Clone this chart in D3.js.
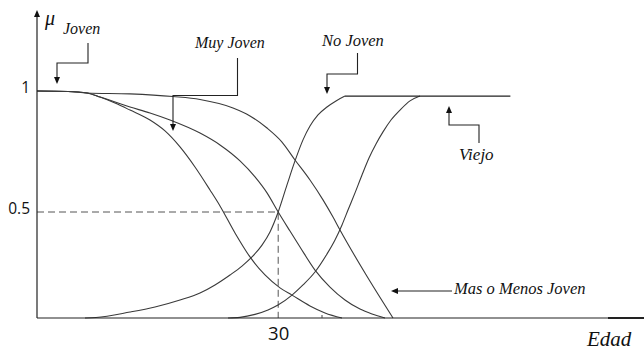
<!DOCTYPE html>
<html>
<head>
<meta charset="utf-8">
<script src="https://cdn.jsdelivr.net/npm/d3@7"></script>
<style>
  html, body { margin: 0; padding: 0; background: #fff; }
  svg { display: block; }
  .lbl { font-family: "Liberation Serif", serif; font-style: italic; fill: #111; }
  .num { font-family: "Open Sans", sans-serif; fill: #111; }
</style>
</head>
<body>
<script>
// ---- data (age in years, membership mu) ----
const muyJovenAge = [0, 3.856, 6.219, 7.836, 9.702, 11.567, 14.055, 15.921, 17.787, 19.652, 21.518, 22.762, 24.627, 26.493, 28.359, 30.225, 31.717, 33.956, 35.822, 37.937];
const muyJovenMu  = [1, 0.998, 0.992, 0.975, 0.950, 0.921, 0.880, 0.835, 0.769, 0.686, 0.591, 0.525, 0.401, 0.288, 0.203, 0.142, 0.108, 0.057, 0.024, 0];

const jovenAge = [0, 3.856, 6.219, 7.836, 11.567, 14.055, 16.543, 20.274, 22.762, 25.250, 27.116, 28.608, 30.0, 31.468, 32.712, 34.578, 36.444, 38.310, 40.176, 41.668, 43.285];
const jovenMu  = [1, 0.998, 0.992, 0.975, 0.934, 0.909, 0.880, 0.826, 0.777, 0.711, 0.645, 0.579, 0.5, 0.410, 0.335, 0.226, 0.146, 0.085, 0.042, 0.019, 0];

const masMenosAge = [0, 3.856, 6.219, 11.567, 16.916, 20.274, 24.379, 26.493, 28.608, 30.473, 32.090, 33.956, 35.573, 36.817, 37.688, 40.797, 44.280];
const masMenosMu  = [1, 0.998, 0.992, 0.988, 0.977, 0.965, 0.930, 0.897, 0.847, 0.789, 0.715, 0.632, 0.550, 0.476, 0.415, 0.212, 0];

const noJovenAge = [5.970, 7.339, 11.567, 14.677, 17.787, 20.274, 22.140, 24.006, 25.498, 26.742, 27.986, 28.981, 30.0, 31.095, 32.090, 33.085, 33.956, 34.951, 36.071, 37.190, 38.310];
const noJovenMu  = [0, 0.002, 0.028, 0.052, 0.085, 0.118, 0.156, 0.203, 0.245, 0.288, 0.344, 0.406, 0.5, 0.612, 0.711, 0.798, 0.855, 0.901, 0.934, 0.959, 0.979];

const viejoAge = [23.757, 25.250, 27.116, 28.733, 29.976, 31.717, 33.085, 34.578, 36.071, 37.066, 37.937, 38.683, 39.554, 40.424, 41.295, 42.166, 43.036, 44.031, 45.151, 46.395, 47.638];
const viejoMu  = [0, 0.003, 0.017, 0.038, 0.061, 0.108, 0.156, 0.217, 0.302, 0.368, 0.439, 0.508, 0.579, 0.653, 0.723, 0.781, 0.831, 0.880, 0.921, 0.959, 0.979];

const plateauAge = [38.31, 58.88];
const plateauMu  = [0.979, 0.979];

const yTickValues = [1, 0.5];
const yTickLabels = ["1", "0.5"];
const xTickValues = [30];
const xTickLabels = ["30"];
const refAge = 30, refMu = 0.5;

// ---- layout ----
const W = 644, H = 350;
const svg = d3.select("body").append("svg").attr("width", W).attr("height", H);

const x = d3.scaleLinear().domain([0, 75.5]).range([37, 644]);
const y = d3.scaleLinear().domain([0, 0.5, 1]).range([318, 212, 91]);

const line = d3.line().x(d => x(d[0])).y(d => y(d[1])).curve(d3.curveMonotoneX);
const straight = d3.line().x(d => x(d[0])).y(d => y(d[1]));
const zip = (a, b) => a.map((v, i) => [v, b[i]]);

// dashed reference lines
svg.append("path")
  .attr("d", straight([[0, refMu], [refAge, refMu], [refAge, 0]]))
  .attr("fill", "none").attr("stroke", "#555").attr("stroke-width", 1)
  .attr("stroke-dasharray", "7,4");

// curves
const series = [
  zip(muyJovenAge, muyJovenMu),
  zip(jovenAge, jovenMu),
  zip(masMenosAge, masMenosMu),
  zip(noJovenAge, noJovenMu),
  zip(viejoAge, viejoMu)
];
svg.selectAll("path.curve").data(series).enter().append("path")
  .attr("class", "curve")
  .attr("d", line)
  .attr("fill", "none").attr("stroke", "#3a3a3a").attr("stroke-width", 1.1);

svg.append("path").attr("d", straight(zip(plateauAge, plateauMu)))
  .attr("fill", "none").attr("stroke", "#222").attr("stroke-width", 1.1);

// axes
const yAxis = d3.axisLeft(y).tickValues(yTickValues).tickSize(0).tickPadding(7)
  .tickFormat((d, i) => yTickLabels[i]);
const gy = svg.append("g").attr("transform", `translate(${x(0)},0)`).call(yAxis);
gy.select(".domain").remove();
gy.selectAll("text").attr("class", "num").attr("font-size", 15.5).attr("dy", "0.1em")
  .attr("font-family", null);

const xAxis = d3.axisBottom(x).tickValues(xTickValues).tickSize(0).tickPadding(9)
  .tickFormat((d, i) => xTickLabels[i]);
const gx = svg.append("g").attr("transform", `translate(0,${y(0)})`).call(xAxis);
gx.select(".domain").remove();
gx.selectAll("text").attr("class", "num").attr("font-size", 18.5).attr("font-family", null);

// axis lines
svg.append("line").attr("x1", x(0)).attr("x2", W).attr("y1", y(0)).attr("y2", y(0))
  .attr("stroke", "#222").attr("stroke-width", 1.2);
svg.append("line").attr("x1", 608).attr("x2", W).attr("y1", y(0)).attr("y2", y(0))
  .attr("stroke", "#222").attr("stroke-width", 2);
svg.append("line").attr("x1", 322).attr("x2", 322).attr("y1", y(0) - 3).attr("y2", y(0))
  .attr("stroke", "#444").attr("stroke-width", 1);
svg.append("line").attr("x1", x(0)).attr("x2", x(0)).attr("y1", y(0)).attr("y2", 16)
  .attr("stroke", "#222").attr("stroke-width", 1.2);

function arrowHead(tx, ty, dir) {
  let p;
  if (dir === "down") p = [[tx, ty], [tx - 3, ty - 7], [tx + 3, ty - 7]];
  else if (dir === "up") p = [[tx, ty], [tx - 3, ty + 7], [tx + 3, ty + 7]];
  else p = [[tx, ty], [tx + 7, ty - 3], [tx + 7, ty + 3]];
  svg.append("path").attr("d", "M" + p.join("L") + "Z").attr("fill", "#111");
}
arrowHead(x(0), 10, "up");

function poly(pts) {
  svg.append("path").attr("d", "M" + pts.join("L"))
    .attr("fill", "none").attr("stroke", "#222").attr("stroke-width", 1.1);
}

// callouts
poly([[88, 43], [88, 63], [57, 63], [57, 80]]);  arrowHead(57, 84, "down");
poly([[237.5, 58], [237.5, 95.5], [173, 95.5], [173, 126]]); arrowHead(173, 131, "down");
poly([[357.5, 53], [357.5, 74], [327, 74], [327, 90]]); arrowHead(327, 94, "down");
poly([[479, 143], [479, 125], [449, 125], [449, 111]]); arrowHead(449, 106, "up");
poly([[452, 291], [395, 291]]); arrowHead(391, 291, "left");

// labels
svg.append("text").attr("class", "lbl").attr("x", 45).attr("y", 25).attr("font-size", 20).text("μ");
svg.append("text").attr("class", "lbl").attr("x", 63).attr("y", 34).attr("font-size", 16).text("Joven");
svg.append("text").attr("class", "lbl").attr("x", 195).attr("y", 48).attr("font-size", 16).text("Muy Joven");
svg.append("text").attr("class", "lbl").attr("x", 322).attr("y", 46).attr("font-size", 16.5).text("No Joven");
svg.append("text").attr("class", "lbl").attr("x", 459).attr("y", 160).attr("font-size", 17).text("Viejo");
svg.append("text").attr("class", "lbl").attr("x", 454).attr("y", 294).attr("font-size", 16.5).text("Mas o Menos Joven");
svg.append("text").attr("class", "lbl").attr("x", 587).attr("y", 346).attr("font-size", 21).text("Edad");
</script>
</body>
</html>
